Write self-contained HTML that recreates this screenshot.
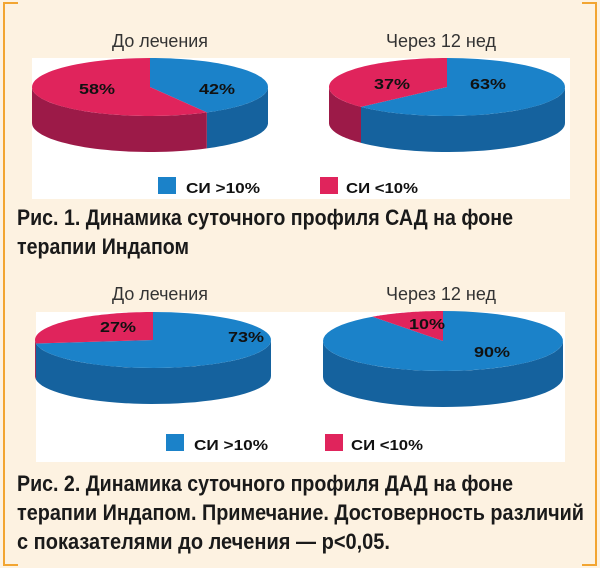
<!DOCTYPE html>
<html><head><meta charset="utf-8"><style>
html,body{margin:0;padding:0;background:#fdf2e1}
svg{display:block}
</style></head><body>
<svg id="s" width="600" height="568" xmlns="http://www.w3.org/2000/svg" font-family="'Liberation Sans',sans-serif">
<rect x="0" y="0" width="600" height="568" fill="#fdf2e1"/>
<path d="M18 3 H4 V565 H18 M582 3 H596 V565 H582" fill="none" stroke="#f2a531" stroke-width="2"/>
<rect x="32" y="58" width="538" height="141" fill="#fff"/>
<rect x="36" y="312" width="529" height="150" fill="#fff"/>
<g id="pies"></g>
<g font-size="18" fill="#333" text-anchor="middle">
<text x="160" y="47" textLength="96" lengthAdjust="spacingAndGlyphs">До лечения</text>
<text x="441" y="47" textLength="110" lengthAdjust="spacingAndGlyphs">Через 12 нед</text>
<text x="160" y="300" textLength="96" lengthAdjust="spacingAndGlyphs">До лечения</text>
<text x="441" y="300" textLength="110" lengthAdjust="spacingAndGlyphs">Через 12 нед</text>
</g>
<g font-size="15" font-weight="bold" fill="#111" text-anchor="middle">
<text x="97" y="94" textLength="36" lengthAdjust="spacingAndGlyphs">58%</text><text x="217" y="94" textLength="36" lengthAdjust="spacingAndGlyphs">42%</text>
<text x="392" y="89" textLength="36" lengthAdjust="spacingAndGlyphs">37%</text><text x="488" y="89" textLength="36" lengthAdjust="spacingAndGlyphs">63%</text>
<text x="118" y="332" textLength="36" lengthAdjust="spacingAndGlyphs">27%</text><text x="246" y="342" textLength="36" lengthAdjust="spacingAndGlyphs">73%</text>
<text x="427" y="329" textLength="36" lengthAdjust="spacingAndGlyphs">10%</text><text x="492" y="357" textLength="36" lengthAdjust="spacingAndGlyphs">90%</text>
</g>
<g font-size="15" font-weight="bold" fill="#111">
<rect x="158" y="177" width="18" height="17" fill="#1b82c9"/><text x="186" y="193" textLength="74" lengthAdjust="spacingAndGlyphs">СИ &gt;10%</text>
<rect x="320" y="177" width="18" height="17" fill="#e0245c"/><text x="346" y="193" textLength="72" lengthAdjust="spacingAndGlyphs">СИ &lt;10%</text>
<rect x="166" y="434" width="18" height="17" fill="#1b82c9"/><text x="194" y="450" textLength="74" lengthAdjust="spacingAndGlyphs">СИ &gt;10%</text>
<rect x="325" y="434" width="18" height="17" fill="#e0245c"/><text x="351" y="450" textLength="72" lengthAdjust="spacingAndGlyphs">СИ &lt;10%</text>
</g>
<g font-size="22" font-weight="bold" fill="#1a1a1a">
<text x="17" y="225" textLength="496" lengthAdjust="spacingAndGlyphs">Рис. 1. Динамика суточного профиля САД на фоне</text>
<text x="17" y="254" textLength="172" lengthAdjust="spacingAndGlyphs">терапии Индапом</text>
<text x="17" y="491" textLength="496" lengthAdjust="spacingAndGlyphs">Рис. 2. Динамика суточного профиля ДАД на фоне</text>
<text x="17" y="520" textLength="567" lengthAdjust="spacingAndGlyphs">терапии Индапом. Примечание. Достоверность различий</text>
<text x="17" y="549" textLength="373" lengthAdjust="spacingAndGlyphs">с показателями до лечения — p&lt;0,05.</text>
</g>
</svg>
<script>
var NS="http://www.w3.org/2000/svg",g=document.getElementById("pies");
function pt(cx,cy,rx,ry,a){var r=a*Math.PI/180;return [cx+rx*Math.sin(r),cy-ry*Math.cos(r)];}
function add(d,f){var p=document.createElementNS(NS,"path");p.setAttribute("d",d);p.setAttribute("fill",f);g.appendChild(p);}
function side(cx,cy,rx,ry,dep,a1,a2,f){a1=Math.max(a1,90);a2=Math.min(a2,270);if(a2<=a1)return;var d="",i,n=40,p;
for(i=0;i<=n;i++){p=pt(cx,cy,rx,ry,a1+(a2-a1)*i/n);d+=(i?"L":"M")+p[0].toFixed(1)+" "+p[1].toFixed(1);}
for(i=n;i>=0;i--){p=pt(cx,cy,rx,ry,a1+(a2-a1)*i/n);d+="L"+p[0].toFixed(1)+" "+(p[1]+dep).toFixed(1);}add(d+"Z",f);}
function slice(cx,cy,rx,ry,a1,a2,f){var d="M"+cx+" "+cy,i,n=60,p;for(i=0;i<=n;i++){p=pt(cx,cy,rx,ry,a1+(a2-a1)*i/n);d+="L"+p[0].toFixed(1)+" "+p[1].toFixed(1);}add(d+"Z",f);}
function pie(cx,cy,rx,ry,dep,blue){var b=blue*360;
side(cx,cy,rx,ry,dep,0,b,"#15629e");side(cx,cy,rx,ry,dep,b,360,"#9c1a48");
slice(cx,cy,rx,ry,0,b,"#1b82c9");slice(cx,cy,rx,ry,b,360,"#e0245c");}
pie(150,87,118,29,36,0.42);
pie(447,87,118,29,36,0.63);
pie(153,340,118,28,36,0.73);
pie(443,341,120,30,36,0.90);
</script>
</body></html>
